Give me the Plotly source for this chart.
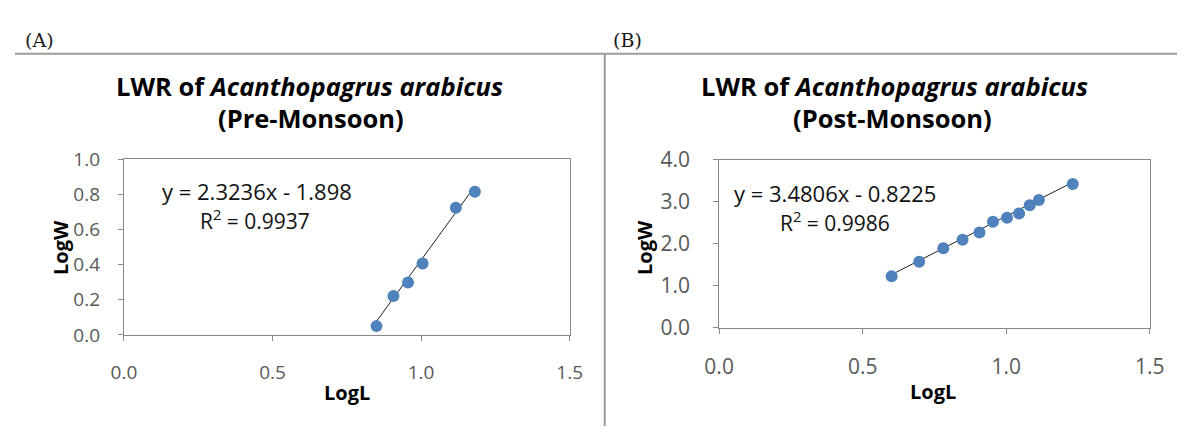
import plotly.graph_objects as go

# Length-weight relationship of Acanthopagrus arabicus (log10 scale)
pre_logL = [0.850, 0.907, 0.956, 1.005, 1.117, 1.181]
pre_logW = [0.050, 0.222, 0.298, 0.407, 0.723, 0.815]
pre_slope, pre_intercept, pre_r2 = 2.3236, -1.898, 0.9937

post_logL = [0.601, 0.697, 0.781, 0.848, 0.907, 0.954, 1.003, 1.045, 1.082, 1.114, 1.232]
post_logW = [1.232, 1.573, 1.893, 2.100, 2.271, 2.523, 2.619, 2.724, 2.917, 3.042, 3.421]
post_slope, post_intercept, post_r2 = 3.4806, -0.8225, 0.9986

W, H = 1192, 439
FONT = "Open Sans"
MARKER = "#4F81BD"
AXIS_GRAY = "#898989"
TICK_GRAY = "#595959"


def px(x):
    return x / W


def py(y):
    return 1 - y / H


def trend(xs, m, b):
    x0, x1 = min(xs), max(xs)
    return [x0, x1], [m * x0 + b, m * x1 + b]


fig = go.Figure()

tx, ty = trend(pre_logL, pre_slope, pre_intercept)
fig.add_trace(go.Scatter(x=tx, y=ty, mode="lines", line=dict(color="#222222", width=1),
                         xaxis="x", yaxis="y", showlegend=False, hoverinfo="skip"))
fig.add_trace(go.Scatter(x=pre_logL, y=pre_logW, mode="markers",
                         marker=dict(color=MARKER, size=12, line=dict(width=0)),
                         xaxis="x", yaxis="y", showlegend=False))

tx, ty = trend(post_logL, post_slope, post_intercept)
fig.add_trace(go.Scatter(x=tx, y=ty, mode="lines", line=dict(color="#222222", width=1),
                         xaxis="x2", yaxis="y2", showlegend=False, hoverinfo="skip"))
fig.add_trace(go.Scatter(x=post_logL, y=post_logW, mode="markers",
                         marker=dict(color=MARKER, size=12, line=dict(width=0)),
                         xaxis="x2", yaxis="y2", showlegend=False))


def axis(domain, rng, dtick, anchor, size, standoff):
    return dict(domain=domain, range=rng, dtick=dtick, tick0=0, tickformat=".1f",
                anchor=anchor, showgrid=False, zeroline=False, showline=True,
                linecolor=AXIS_GRAY, linewidth=1, mirror=True,
                ticks="outside", ticklen=5, tickcolor=AXIS_GRAY, tickwidth=1,
                ticklabelstandoff=standoff,
                tickfont=dict(family=FONT, size=size, color=TICK_GRAY), fixedrange=True)


fig.update_layout(
    width=W, height=H, autosize=False,
    margin=dict(l=0, r=0, t=0, b=0),
    paper_bgcolor="white", plot_bgcolor="white",
    xaxis=axis([px(111.7), px(569)], [0, 1.5], 0.5, "y", 19, 15),
    yaxis=axis([py(341.7), py(154)], [0, 1.0], 0.2, "x", 19, 14),
    xaxis2=axis([px(722.3), px(1164)], [0, 1.5], 0.5, "y2", 21, 15),
    yaxis2=axis([py(334.3), py(154.6)], [0, 4.0], 1.0, "x2", 21, 19),
)

ann = []


def text(x, y, s, size, color="#000000", family=FONT, angle=0):
    ann.append(dict(xref="paper", yref="paper", x=px(x), y=py(y), text=s, showarrow=False,
                    xanchor="center", yanchor="middle", textangle=angle,
                    font=dict(family=family, size=size, color=color)))


# panel tags
text(25, 27, "(A)", 19, "#1a1a1a", "DejaVu Serif")
text(628, 27, "(B)", 19, "#1a1a1a", "DejaVu Serif")

# chart titles
text(302, 76, "<b>LWR of <i>Acanthopagrus arabicus</i></b>", 25.5)
text(304, 110, "<b>(Pre-Monsoon)</b>", 25.5)
text(902, 76, "<b>LWR of <i>Acanthopagrus arabicus</i></b>", 25.5)
text(900, 110, "<b>(Post-Monsoon)</b>", 25.5)

# regression labels
text(248, 188, f"y = {pre_slope}x - {abs(pre_intercept)}", 22, "#111111")
text(246, 218, f"R<sup>2</sup> = {pre_r2}", 21, "#111111")
text(841, 190, f"y = {post_slope}x - {abs(post_intercept)}", 22, "#111111")
text(841, 221, f"R<sup>2</sup> = {post_r2}", 21, "#111111")

# axis titles
text(341, 403, "<b>LogL</b>", 20)
text(942, 402, "<b>LogL</b>", 20)
text(46, 248, "<b>LogW</b>", 20, angle=-90)
text(645, 248, "<b>LogW</b>", 20, angle=-90)

fig.update_layout(annotations=ann)

# panel separators
fig.add_shape(type="line", xref="paper", yref="paper", x0=0, x1=1, y0=py(41.5), y1=py(41.5),
              line=dict(color="#9a9a9a", width=2))
fig.add_shape(type="line", xref="paper", yref="paper", x0=px(605), x1=px(605), y0=0, y1=py(41.5),
              line=dict(color="#9a9a9a", width=2))

# pin the graph div to the page's top-left corner
pin_js = (
    "document.documentElement.style.margin='0';"
    "document.body.style.margin='0';document.body.style.padding='0';"
    "document.body.style.overflow='hidden';"
    "var gd=document.getElementById('{plot_id}');"
    "gd.style.position='fixed';gd.style.left='0px';gd.style.top='0px';"
)
fig.write_html("out.html", post_script=pin_js)
